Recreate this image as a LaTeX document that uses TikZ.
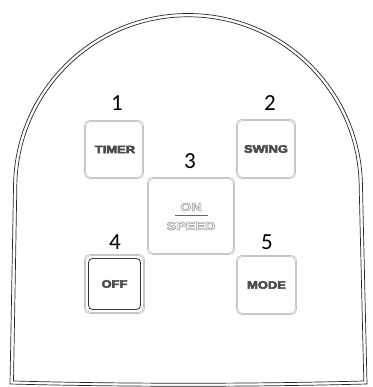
\documentclass[tikz,border=0pt]{standalone}
\usepackage{fontspec}
\setmainfont{Carlito}
\newfontfamily\btnfont{Liberation Sans}
\newcommand{\hollowtxt}[1]{\special{pdf:literal direct 1 Tr 0.5 w}#1\special{pdf:literal direct 0 Tr}}
\newcommand{\heavytxt}[1]{\special{pdf:literal direct 2 Tr 0.5 w}#1\special{pdf:literal direct 0 Tr}}
\begin{document}
\begin{tikzpicture}[x=1pt,y=1pt,
  shell/.style={draw=black!85,line width=0.7pt},
  btn/.style={draw=gray!60,line width=0.5pt,double=gray!12,double distance=0.9pt,rounded corners=5pt},
  btntext/.style={font=\btnfont\bfseries\fontsize{10.8}{11}\selectfont,text=black!70},
  lighttext/.style={font=\btnfont\bfseries\fontsize{11.5}{12}\selectfont,text=gray!85},
  num/.style={font=\fontsize{23}{23}\selectfont,text=black}]
\useasboundingbox (0,0) rectangle (372,387);
% outer shell, double line
\draw[shell] (10,3) -- (13.5,199) arc[start angle=180,end angle=0,radius=174.5] -- (367,3)
  .. controls (250,0) and (126,0) .. cycle;
\draw[shell] (13.5,6) -- (16.8,199) arc[start angle=180,end angle=0,radius=171.2] -- (363.8,6)
  .. controls (250,3) and (126,3) .. cycle;
% buttons
\draw[btn] (85,209) rectangle (143,266);
\node[btntext] (timer) at (115,237.5) {\scalebox{1.2}[1]{\heavytxt{TIMER}}};
\draw[btn] (237,209) rectangle (295,267);
\node[btntext] (swing) at (266,238) {\scalebox{1.2}[1]{\heavytxt{SWING}}};
\draw[btn] (148,133) rectangle (234,209);
\node[lighttext] (on) at (191,180) {\scalebox{1.25}[1]{\hollowtxt{ON}}};
\node[lighttext] (speed) at (191,161) {\scalebox{1.25}[1]{\hollowtxt{SPEED}}};
\draw[black!60,line width=1pt] (175,171) -- (208,171);
\draw[btn] (85,74) rectangle (144,132);
\draw[black!80,line width=0.8pt,rounded corners=4pt] (88.5,77.5) rectangle (140.5,128.5);
\node[btntext] (off) at (114.5,103) {\scalebox{1.2}[1]{\heavytxt{OFF}}};
\draw[btn] (237,73) rectangle (296,131);
\node[btntext] (mode) at (266.5,102) {\scalebox{1.2}[1]{\heavytxt{MODE}}};
% numbers
\node[num] (n1) at (117,284) {1};
\node[num] (n2) at (270,284) {2};
\node[num] (n3) at (190,226) {3};
\node[num] (n4) at (115,145) {4};
\node[num] (n5) at (267,145) {5};
\end{tikzpicture}
\end{document}
